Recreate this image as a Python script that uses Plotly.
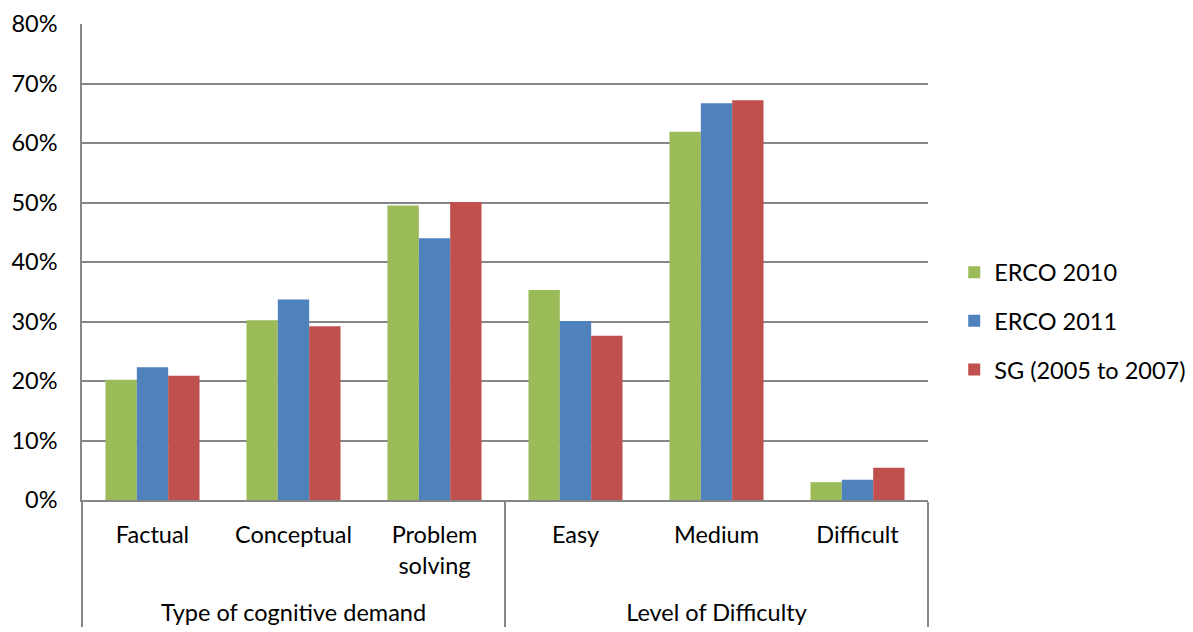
import plotly.graph_objects as go

groups = ["<br>Type of cognitive demand"] * 3 + ["<br>Level of Difficulty"] * 3
categories = ["Factual", "Conceptual", "Problem<br>solving", "Easy", "Medium", "Difficult"]
erco_2010 = [0.202, 0.302, 0.495, 0.353, 0.619, 0.030]
erco_2011 = [0.223, 0.337, 0.440, 0.301, 0.667, 0.034]
sg_2005_2007 = [0.209, 0.292, 0.501, 0.276, 0.672, 0.054]
series_names = ["ERCO 2010", "ERCO 2011", "SG (2005 to 2007)"]
colors = ["#9BBB59", "#4F81BD", "#C0504D"]

font_family = "Lato, 'Open Sans', sans-serif"
grid = "#868686"

fig = go.Figure()
for name, vals, col in zip(series_names, [erco_2010, erco_2011, sg_2005_2007], colors):
    fig.add_trace(go.Bar(
        x=[groups, categories], y=vals, name=name, legendgroup=name,
        marker=dict(color=col, line=dict(width=0)),
    ))

# page body has an 8px default margin, so the figure is offset by 8px
fig.update_layout(
    width=1185, height=624,
    margin=dict(l=74, r=265, t=16, b=132, autoexpand=False),
    paper_bgcolor="white", plot_bgcolor="white",
    barmode="group", bargap=0.333, bargroupgap=0,
    font=dict(family=font_family, size=24, color="#000000"),
    showlegend=True,
    legend=dict(x=1.031, y=0.376, xanchor="left", yanchor="middle",
                font=dict(size=23.5), tracegroupgap=15, itemwidth=30),
)
fig.update_xaxes(
    type="multicategory", showline=True, linecolor=grid, linewidth=1.5,
    showdividers=True, dividercolor=grid, dividerwidth=1.5,
    tickfont=dict(size=23.5), ticks="", showgrid=False,
    automargin=False, ticklabelstandoff=13,
)
fig.update_yaxes(
    range=[0, 0.8], dtick=0.1, tickformat=".0%",
    showgrid=True, gridcolor=grid, gridwidth=1.5,
    showline=True, linecolor=grid, linewidth=1.5,
    zeroline=False, ticks="", ticklabelstandoff=18,
    tickfont=dict(size=23.5), automargin=False,
)
fig.write_html("out.html")
